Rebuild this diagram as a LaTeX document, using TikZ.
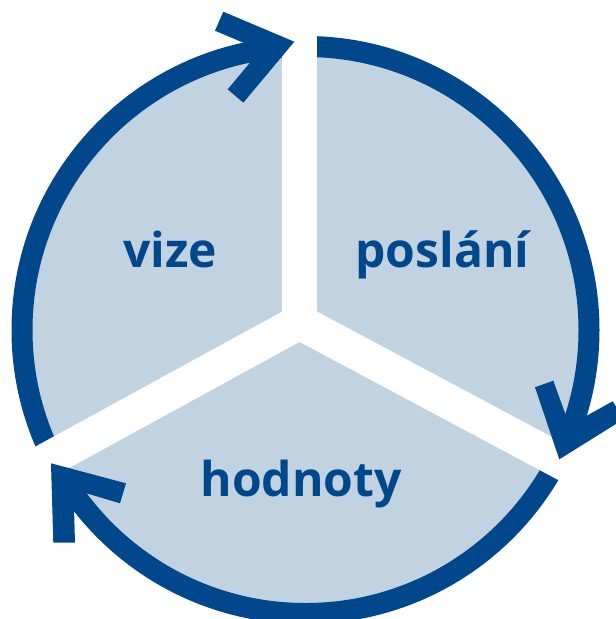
\documentclass[tikz,border=0pt]{standalone}
\usepackage{fontspec}
\setmainfont{Open Sans}
\definecolor{ringblue}{RGB}{0,71,139}
\definecolor{fillblue}{RGB}{193,211,225}
\tikzset{
  band/.style={white, line width=35pt, line cap=round},
  label/.style={text=ringblue, font=\fontsize{48}{58}\selectfont\bfseries, anchor=base, inner sep=0pt},
  chevron/.style={fill=ringblue}
}
\begin{document}
\begin{tikzpicture}[x=1pt,y=-1pt]
\useasboundingbox (0,0) rectangle (616,619);
% disc and ring
\coordinate (C) at (305.5,330);
\fill[fillblue] (C) circle[radius=283.5pt];
\draw[ringblue, line width=21pt] (C) circle[radius=283.5pt];
% white bands
\coordinate (J) at (299.5,322);
\coordinate (Btop) at (299.2,-20);
\coordinate (Bleft) at (-20,496.8);
\coordinate (Bright) at (640,503.8);
\draw[band] (J) -- (Btop);
\draw[band] (J) -- (Bleft);
\draw[band] (J) -- (Bright);
% arrowheads
\fill[chevron] (223.3,11.7) -- (294.3,41.7) -- (243.3,102.7) -- (227.7,89.3) -- (260.6,50.0) -- (215,30.7) -- cycle;
\fill[chevron] (535,387.3) -- (559.3,459.3) -- (623.9,419) -- (612.7,401.3) -- (569.4,425.3) -- (553.3,380.7) -- cycle;
\fill[chevron] (126,483.3) -- (51,463.3) -- (53.3,542.7) -- (75,542.7) -- (73.5,489.4) -- (120,503.3) -- cycle;
% labels
\node[label] (vize) at (170,267.7) {vize};
\node[label] (poslani) at (442.5,267.7) {poslání};
\node[label] (hodnoty) at (301,496.7) {hodnoty};
\end{tikzpicture}
\end{document}
